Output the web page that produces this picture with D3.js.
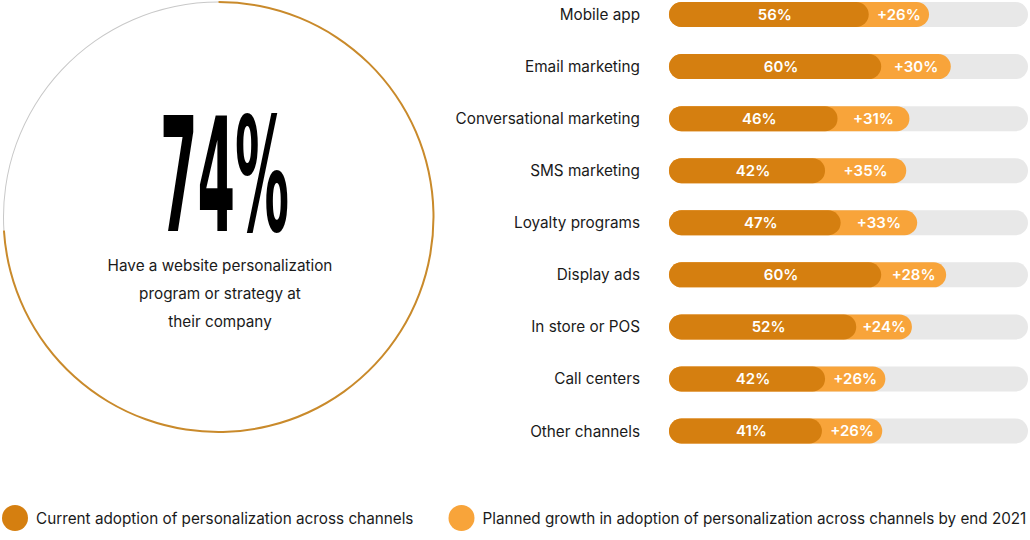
<!DOCTYPE html>
<html>
<head>
<meta charset="utf-8">
<script src="https://cdn.jsdelivr.net/npm/d3@7"></script>
<style>
  html, body { margin: 0; padding: 0; background: #fff; }
  svg { display: block; font-family: Inter, "Noto Sans", sans-serif; }
</style>
</head>
<body>
<svg width="1030" height="540"></svg>
<script>

// Data
const channels = [
  "Mobile app", "Email marketing", "Conversational marketing", "SMS marketing",
  "Loyalty programs", "Display ads", "In store or POS", "Call centers", "Other channels"
];
const current = [56, 60, 46, 42, 47, 60, 52, 42, 41];
const growth = [26, 30, 31, 35, 33, 28, 24, 26, 26];
const headline = 74;
const headlineText = ["Have a website personalization", "program or strategy at", "their company"];
const legendLabels = [
  "Current adoption of personalization across channels",
  "Planned growth in adoption of personalization across channels by end 2021"
];

const darkOrange = "#D57F10";
const lightOrange = "#F8A43A";
const track = "#E8E8E8";

const svg = d3.select("svg");

// squeeze a text horizontally so it spans w pixels from x
function fitWidth(text, x, w) {
  text.each(function () {
    const len = this.getComputedTextLength();
    const k = Math.min(1, w / len);
    d3.select(this)
        .attr("x", 0)
        .attr("transform", "translate(" + x + "," + this.getAttribute("y") + ")scale(" + k + ",1)")
        .attr("y", 0);
  });
}

// Donut ring on the left
const cx = 218.5, cy = 217, R = 215;
const ring = svg.append("g");
const angle = d3.scaleLinear().domain([0, 100]).range([0, 2 * Math.PI]);

ring.append("path")
    .attr("transform", "translate(" + [cx, cy] + ")")
    .attr("fill", "#C8C8C8")
    .attr("d", d3.arc()({ innerRadius: R - 0.5, outerRadius: R + 0.5, startAngle: angle(headline), endAngle: angle(100) }));
ring.append("path")
    .attr("transform", "translate(" + [cx, cy] + ")")
    .attr("fill", "#C98A2B")
    .attr("d", d3.arc()({ innerRadius: R - 1, outerRadius: R + 1, startAngle: angle(0), endAngle: angle(headline) }));

ring.append("text")
    .attr("y", 231)
    .style("font-family", "'DejaVu Sans Condensed', 'DejaVu Sans', sans-serif")
    .style("font-weight", "bold")
    .style("font-size", "159px")
    .style("fill", "#000")
    .text(headline + "%")
    .call(fitWidth, 160, 129);

ring.selectAll("text.sub")
    .data(headlineText).enter()
    .append("text")
      .attr("class", "sub")
      .attr("text-anchor", "middle")
      .attr("x", 220)
      .attr("y", function (d, i) { return 271 + 28 * i; })
      .style("font-size", "15.3px")
      .style("fill", "#1a1a1a")
      .text(function (d) { return d; });

// Bars on the right
const barX = 669, barEnd = 1028, barH = 25;
const y = d3.scalePoint().domain(channels).range([14.5, 431]);
// the infographic draws the two segments at different widths per percent
const xCur = d3.scaleLinear().domain([0, 100]).range([barX + 25, barX + 25 + 312]);
const xGrow = d3.scaleLinear().domain([0, 100]).range([0, 232]);

const rows = svg.append("g").selectAll("g.row")
    .data(channels.map(function (c, i) { return { name: c, cur: current[i], grow: growth[i] }; }))
    .enter().append("g")
      .attr("class", "row")
      .attr("transform", function (d) { return "translate(0," + y(d.name) + ")"; });

rows.append("text")
    .attr("x", 640)
    .attr("y", 0)
    .attr("dy", "0.36em")
    .attr("text-anchor", "end")
    .style("font-size", "15.3px")
    .style("fill", "#1a1a1a")
    .text(function (d) { return d.name; });

rows.append("rect")
    .attr("x", barX)
    .attr("y", -barH / 2)
    .attr("width", barEnd - barX)
    .attr("height", barH)
    .attr("rx", barH / 2)
    .attr("fill", track);

rows.append("rect")
    .attr("x", barX)
    .attr("y", -barH / 2)
    .attr("width", function (d) { return xCur(d.cur) + xGrow(d.grow) - barX; })
    .attr("height", barH)
    .attr("rx", barH / 2)
    .attr("fill", lightOrange);

rows.append("rect")
    .attr("x", barX)
    .attr("y", -barH / 2)
    .attr("width", function (d) { return xCur(d.cur) - barX; })
    .attr("height", barH)
    .attr("rx", barH / 2)
    .attr("fill", darkOrange);

rows.append("text")
    .attr("x", function (d) { return (barX + 12 + xCur(d.cur)) / 2; })
    .attr("dy", "0.36em")
    .attr("text-anchor", "middle")
    .style("font-weight", "600")
    .style("font-size", "15px")
    .style("fill", "#fff")
    .text(function (d) { return d.cur + "%"; });

rows.append("text")
    .attr("x", function (d) { return xCur(d.cur) + xGrow(d.grow) / 2; })
    .attr("dy", "0.36em")
    .attr("text-anchor", "middle")
    .style("font-weight", "600")
    .style("font-size", "15px")
    .style("fill", "#fff")
    .text(function (d) { return "+" + d.grow + "%"; });

// Legend
const legendX = [15, 461.5];
const legendEnd = [414, 1027];
const legend = svg.append("g").selectAll("g.legend")
    .data(legendLabels).enter()
    .append("g")
      .attr("class", "legend");

legend.append("circle")
    .attr("cx", function (d, i) { return legendX[i]; })
    .attr("cy", 518)
    .attr("r", 13)
    .attr("fill", function (d, i) { return i === 0 ? darkOrange : lightOrange; });

legend.append("text")
    .attr("y", 524)
    .style("font-size", "15.5px")
    .style("fill", "#1a1a1a")
    .text(function (d) { return d; })
    .each(function (d, i) {
      d3.select(this).call(fitWidth, legendX[i] + 21, legendEnd[i] - legendX[i] - 21);
    });

</script>
</body>
</html>
